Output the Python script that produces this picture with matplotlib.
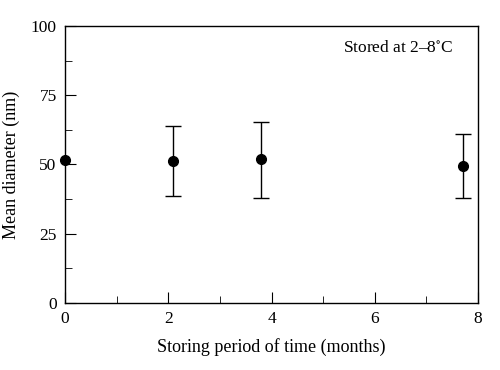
import matplotlib
matplotlib.use("Agg")
import matplotlib.pyplot as plt
from matplotlib.ticker import MultipleLocator

months = [0, 2.1, 3.8, 7.7]
diameter = [51.5, 51.3, 52.0, 49.5]
err_low = [0, 12.8, 14.0, 11.5]
err_high = [0, 12.7, 13.5, 11.5]

plt.rcParams['font.family'] = ['Liberation Serif', 'DejaVu Serif']
plt.rcParams['mathtext.fontset'] = 'stix'

fig = plt.figure(figsize=(5, 3.7), dpi=100)
ax = fig.add_axes([0.13, 0.181, 0.826, 0.749])

# first point has no error bar
ax.errorbar(months[1:], diameter[1:], yerr=[err_low[1:], err_high[1:]], fmt='none',
            ecolor='black', capsize=6, elinewidth=1, capthick=1, zorder=2)
ax.plot(months, diameter, 'o', color='black', markersize=7, clip_on=False, zorder=3)

ax.set_xlim(0, 8)
ax.set_ylim(0, 100)
ax.xaxis.set_major_locator(MultipleLocator(2))
ax.xaxis.set_minor_locator(MultipleLocator(1))
ax.yaxis.set_major_locator(MultipleLocator(25))
ax.yaxis.set_minor_locator(MultipleLocator(12.5))
ax.tick_params(which='both', direction='in', top=False, right=False, labelsize=12.5)
ax.tick_params(which='major', length=8, pad=6)
ax.tick_params(which='minor', length=5)
for s in ax.spines.values():
    s.set_linewidth(1)

ax.set_xlabel('Storing period of time (months)', fontsize=13, labelpad=8)
ax.set_ylabel('Mean diameter (nm)', fontsize=13, labelpad=8)
ax.text(0.94, 0.92, 'Stored at 2–8$^{\\circ}$C', transform=ax.transAxes,
        ha='right', va='center', fontsize=12.5)

fig.savefig('out.png', dpi=100)
